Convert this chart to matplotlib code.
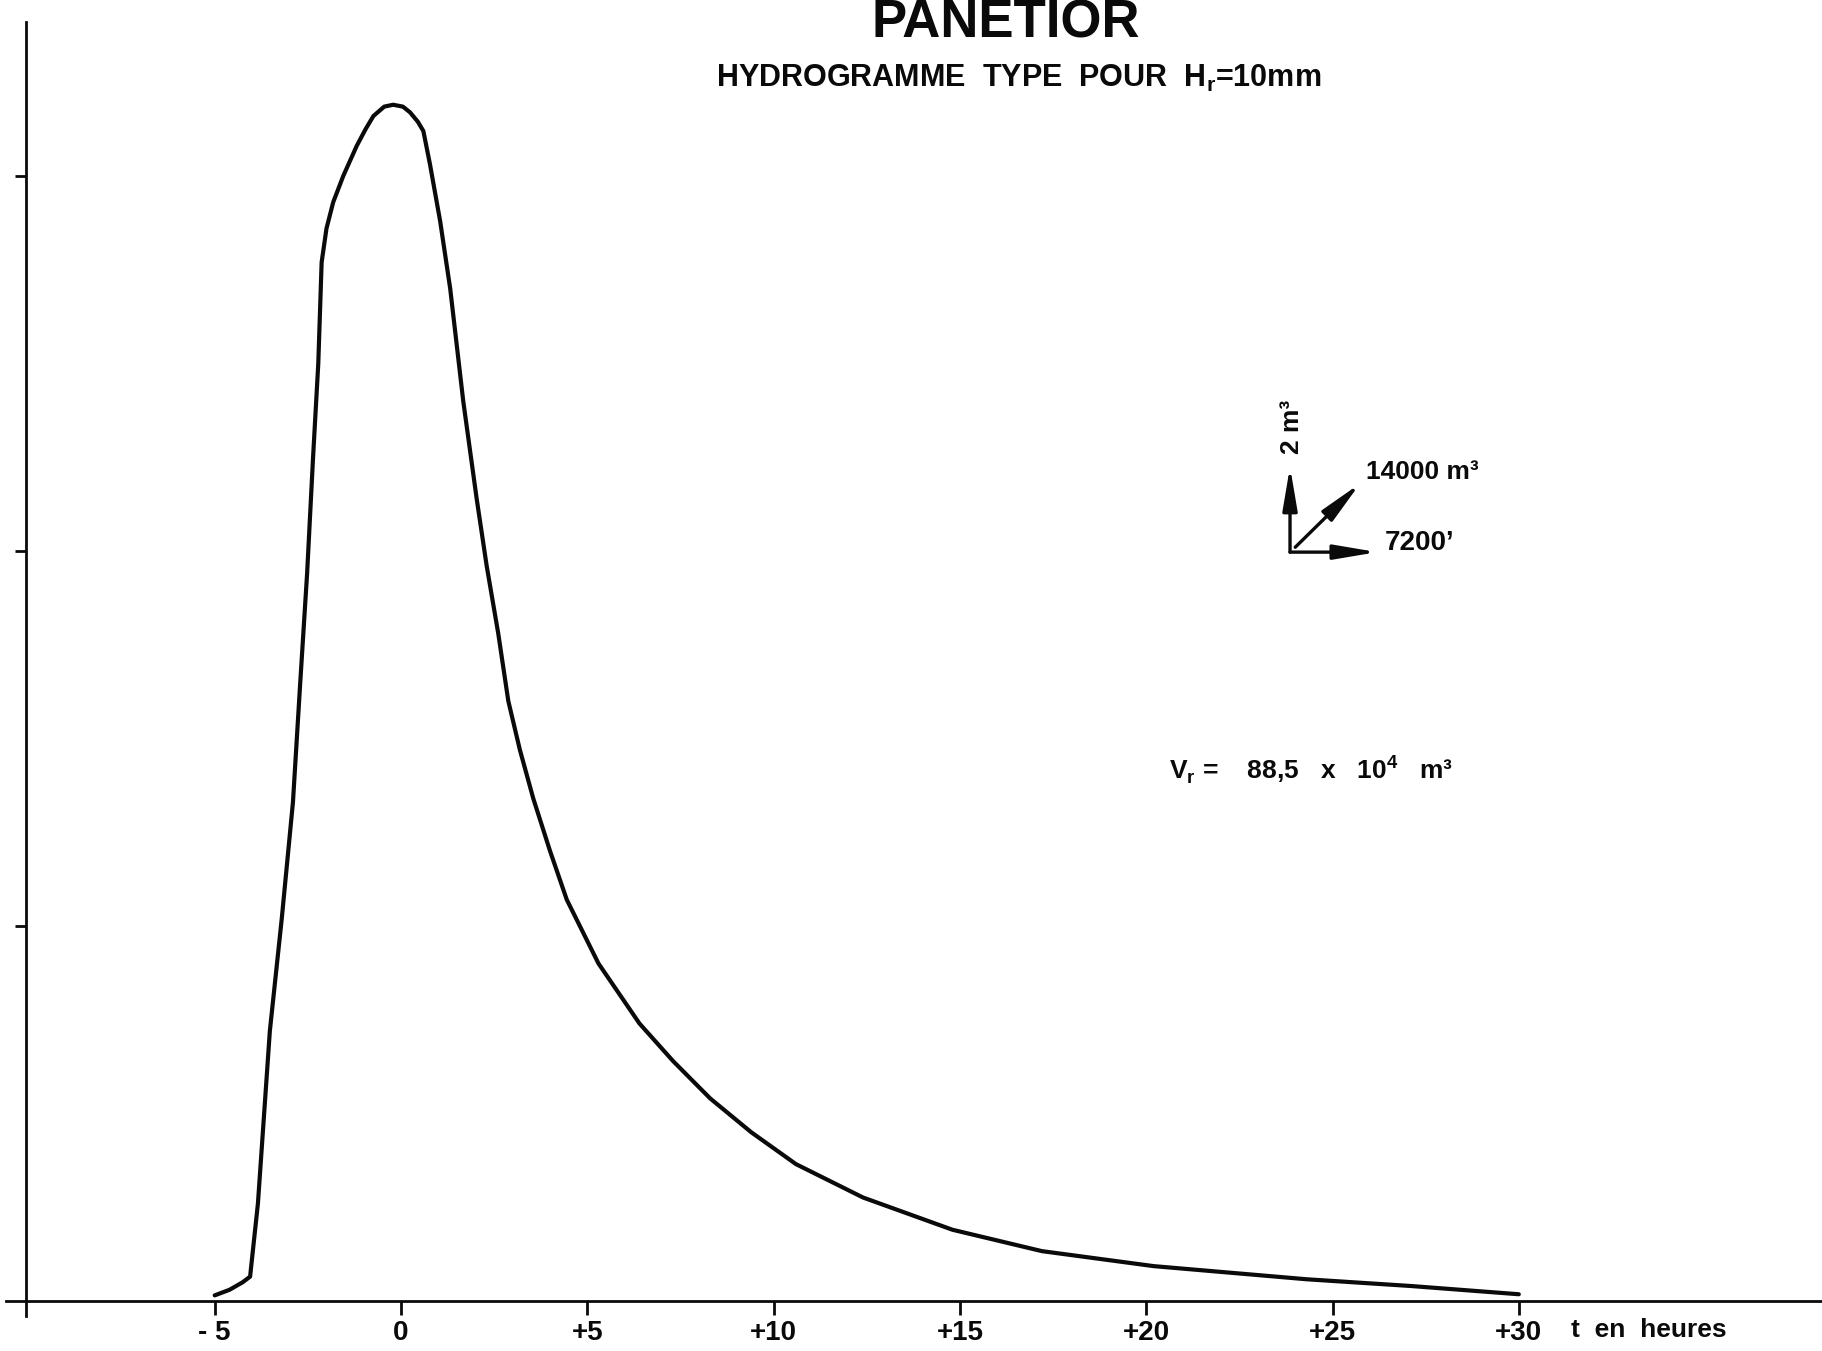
#!/usr/bin/env python3
"""Redraw the PANETIOR unit hydrograph (Hr = 10 mm) as a plain line chart."""

import matplotlib
matplotlib.use('Agg')
import matplotlib.pyplot as plt


FIG_W_PX = 1822
FIG_H_PX = 1351
DPI = 100
INK = '#0a0a0a'

plt.rcParams['font.family'] = ['Liberation Sans', 'DejaVu Sans']

# Hydrograph: time in hours, discharge in m3/s.
time_h = [-5.0, -4.6, -4.25, -4.05, -3.84, -3.52, -3.2, -2.9, -2.71, -2.52,
          -2.36, -2.22, -2.13, -2.0, -1.82, -1.55, -1.19, -0.95, -0.74, -0.45,
          -0.21, 0.05, 0.24, 0.45, 0.6, 0.78, 1.05, 1.32, 1.67, 2.03,
          2.3, 2.61, 2.88, 3.19, 3.55, 4.0, 4.45, 5.3, 6.4, 7.3,
          8.3, 9.4, 10.6, 12.4, 14.8, 17.2, 20.2, 24.3, 27.1, 30.0]
discharge = [0.15, 0.3, 0.5, 0.65, 2.6, 7.2, 10.2, 13.3, 16.4, 19.4,
             22.5, 25.0, 27.7, 28.6, 29.3, 30.0, 30.8, 31.25, 31.6, 31.85,
             31.9, 31.85, 31.7, 31.45, 31.2, 30.3, 28.8, 27.0, 24.0, 21.4,
             19.6, 17.8, 16.0, 14.7, 13.4, 12.0, 10.7, 9.0, 7.4, 6.4,
             5.4, 4.5, 3.65, 2.76, 1.9, 1.33, 0.93, 0.58, 0.4, 0.18]

x_ticks = [-5, 0, 5, 10, 15, 20, 25, 30]
x_tick_labels = ['- 5', '0', '+5', '+10', '+15', '+20', '+25', '+30']
y_ticks = [10, 20, 30]

TITLE = 'PANETIOR'
SUBTITLE = 'HYDROGRAMME  TYPE  POUR  H$_\\mathregular{r}$=10mm'
VOLUME = 'V$_\\mathregular{r}$ =    88,5   x   10$^\\mathregular{4}$   m³'


def build_figure():
    fig = plt.figure(figsize=(FIG_W_PX / DPI, FIG_H_PX / DPI), dpi=DPI)
    fig.patch.set_facecolor('white')

    # Axes box placed so the axis lines sit where they sit on the scan.
    left = 26 / FIG_W_PX
    bottom = (FIG_H_PX - 1301) / FIG_H_PX
    height = (1301 - 22) / FIG_H_PX
    ax = fig.add_axes([left, bottom, 1 - left, height])
    ax.set_facecolor('white')

    x_left = (26 - 401) / 37.26
    x_right = (FIG_W_PX - 401) / 37.26
    y_top = (1301 - 22) / 37.5
    ax.set_xlim(x_left, x_right)
    ax.set_ylim(0, y_top)

    ax.plot(time_h, discharge, color=INK, lw=3.0, solid_capstyle='round',
            solid_joinstyle='round')

    for side in ('top', 'right'):
        ax.spines[side].set_visible(False)
    for side in ('left', 'bottom'):
        ax.spines[side].set_linewidth(2.0)
        ax.spines[side].set_color(INK)

    # little overshoots where the two axes cross
    ax.plot([x_left - 0.55, x_left], [0, 0], color=INK, lw=2.0, clip_on=False)
    ax.plot([x_left, x_left], [-0.4, 0], color=INK, lw=2.0, clip_on=False)

    ax.set_xticks(x_ticks)
    ax.set_xticklabels(x_tick_labels, fontsize=20, fontweight='bold')
    ax.set_yticks(y_ticks)
    ax.set_yticklabels([])
    ax.tick_params(axis='x', direction='out', length=10, width=2.0,
                   color=INK, pad=4, labelcolor=INK)
    ax.tick_params(axis='y', direction='out', length=8, width=2.0, color=INK)

    ax.text(31.4, -0.78, 't  en  heures', fontsize=19, fontweight='bold',
            ha='left', va='center', color=INK, clip_on=False)

    fig.text(1006 / FIG_W_PX, 1 - 24 / FIG_H_PX, TITLE, fontsize=38,
             fontweight='bold', ha='center', va='center', color=INK)
    fig.text(1019 / FIG_W_PX, 1 - 78 / FIG_H_PX, SUBTITLE, fontsize=22,
             fontweight='bold', ha='center', va='center', color=INK)

    ax.text(20.6, 14.16, VOLUME, fontsize=19, fontweight='bold',
            ha='left', va='center', color=INK)

    # scale key: 2 m3/s up, 7200 s across, 14000 m3 on the diagonal
    arrow = dict(arrowstyle='-|>,head_length=1.3,head_width=0.22', color=INK,
                 lw=2.4, mutation_scale=20, shrinkA=0, shrinkB=0)
    origin = (23.86, 19.97)
    ax.annotate('', xy=(23.86, 22.25), xytext=origin, arrowprops=arrow)
    ax.annotate('', xy=(26.2, 19.97), xytext=origin, arrowprops=arrow)
    ax.annotate('', xy=(25.74, 21.8), xytext=(24.0, 20.1), arrowprops=arrow)
    ax.text(23.9, 23.3, '2 m³', rotation=90, fontsize=19, fontweight='bold',
            ha='center', va='center', color=INK)
    ax.text(25.9, 22.1, '14000 m³', fontsize=19, fontweight='bold',
            ha='left', va='center', color=INK)
    ax.text(26.4, 20.2, '7200’', fontsize=20, fontweight='bold',
            ha='left', va='center', color=INK)

    return fig


def main():
    fig = build_figure()
    fig.savefig('out.png', dpi=DPI, facecolor='white')


if __name__ == '__main__':
    main()
